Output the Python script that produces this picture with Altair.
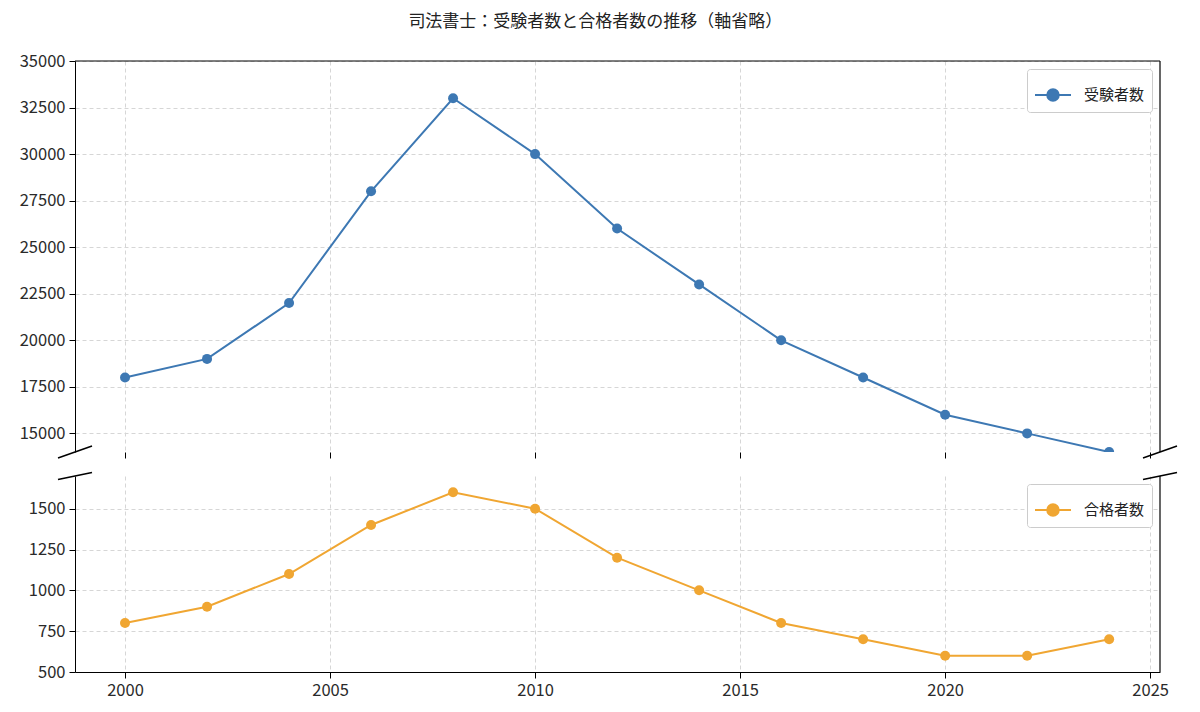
import altair as alt
import pandas as pd

# ---- data ----
years = [2000, 2002, 2004, 2006, 2008, 2010, 2012, 2014, 2016, 2018, 2020, 2022, 2024]
applicants = [18000, 19000, 22000, 28000, 33000, 30000, 26000, 23000, 20000, 18000, 16000, 15000, 14000]
passers = [800, 900, 1100, 1400, 1600, 1500, 1200, 1000, 800, 700, 600, 600, 700]
x_ticks = [2000, 2005, 2010, 2015, 2020, 2025]
top_ticks = [15000, 17500, 20000, 22500, 25000, 27500, 30000, 32500, 35000]
bottom_ticks = [500, 750, 1000, 1250, 1500]
series_top = "受験者数"
series_bottom = "合格者数"
title_text = "司法書士：受験者数と合格者数の推移（軸省略）"

BLUE = "#3d78b3"
ORANGE = "#f0a632"
FONT = "Noto Sans CJK JP"
W = 1085
HT = 391
HB = 196

xscale = alt.Scale(domain=[1998.78, 2025.24], nice=False, zero=False)

LEGEND_PATH = ("M-1,0H1M0.32,0A0.32,0.32,0,1,1,-0.32,0"
               "A0.32,0.32,0,1,1,0.32,0Z")


def panel(years, values, name, color, ydomain, yticks, H, is_bottom):
    df = pd.DataFrame({"year": years, "value": values, "series": [name] * len(years)})
    x_axis = alt.Axis(values=x_ticks, format="d", grid=True, gridDash=[4, 3],
                      gridColor="#d6d6d6", labels=is_bottom, domain=is_bottom,
                      ticks=True, tickSize=6, tickColor="#000", domainColor="#000",
                      title=None, labelFontSize=16.5, labelPadding=4, labelColor="#2a2a2a",
                      labelFont=FONT)
    y_axis = alt.Axis(values=yticks, format="d", grid=True, gridDash=[4, 3],
                      gridColor="#d6d6d6", domain=True, domainColor="#000",
                      ticks=True, tickSize=6, tickColor="#000", title=None,
                      labelFontSize=16.5, labelPadding=4, labelColor="#2a2a2a",
                      labelFont=FONT, minExtent=62, maxExtent=62)
    legend = alt.Legend(title=None, orient="top-right", offset=8,
                        symbolType=LEGEND_PATH, symbolSize=1296,
                        symbolStrokeWidth=2, symbolFillColor=color,
                        symbolStrokeColor=color, labelFont=FONT,
                        labelFontSize=15, labelColor="#222", labelOffset=12,
                        padding=7, cornerRadius=3, strokeColor="#cccccc",
                        fillColor="white")
    base = alt.Chart(df).encode(
        x=alt.X("year:Q", scale=xscale, axis=x_axis),
        y=alt.Y("value:Q", scale=alt.Scale(domain=ydomain, nice=False, zero=False), axis=y_axis),
        color=alt.Color("series:N", scale=alt.Scale(domain=[name], range=[color]), legend=legend),
    )
    line = base.mark_line(strokeWidth=2, clip=True)
    pts = base.mark_point(filled=True, size=100, opacity=1, clip=True)

    dummy = alt.Chart(pd.DataFrame({"k": [0]}))
    right = dummy.mark_rule(color="#000", strokeWidth=1.2).encode(
        x=alt.value(W), y=alt.value(0), y2=alt.value(H))
    layers = [line, pts, right]
    if is_bottom:
        # break marks at top edge of bottom panel
        b1 = dummy.mark_rule(color="#000", strokeWidth=1.5).encode(
            x=alt.value(-17), x2=alt.value(17), y=alt.value(3.5), y2=alt.value(-3.5))
        b2 = dummy.mark_rule(color="#000", strokeWidth=1.5).encode(
            x=alt.value(W - 17), x2=alt.value(W + 17), y=alt.value(3.5), y2=alt.value(-3.5))
        layers += [b1, b2]
    else:
        top = dummy.mark_rule(color="#000", strokeWidth=1.2).encode(
            x=alt.value(0), x2=alt.value(W), y=alt.value(0))
        b1 = dummy.mark_rule(color="#000", strokeWidth=1.5).encode(
            x=alt.value(-17), x2=alt.value(17), y=alt.value(H + 6), y2=alt.value(H - 6))
        b2 = dummy.mark_rule(color="#000", strokeWidth=1.5).encode(
            x=alt.value(W - 17), x2=alt.value(W + 17), y=alt.value(H + 6), y2=alt.value(H - 6))
        layers += [top, b1, b2]
    return alt.layer(*layers).properties(width=W, height=H)


top_chart = panel(years, applicants, series_top, BLUE, [14000, 35000], top_ticks, HT, False)
bottom_chart = panel(years, passers, series_bottom, ORANGE, [500, 1700], bottom_ticks, HB, True)

chart = alt.vconcat(top_chart, bottom_chart, spacing=12).resolve_scale(
    color="independent"
).properties(
    title=alt.TitleParams(title_text, anchor="middle", fontSize=17, font=FONT,
                          fontWeight="normal", color="#222", offset=22),
    padding=5,
).configure_view(stroke=None)

chart.save("out.html", embed_options={"renderer": "svg", "actions": False})
